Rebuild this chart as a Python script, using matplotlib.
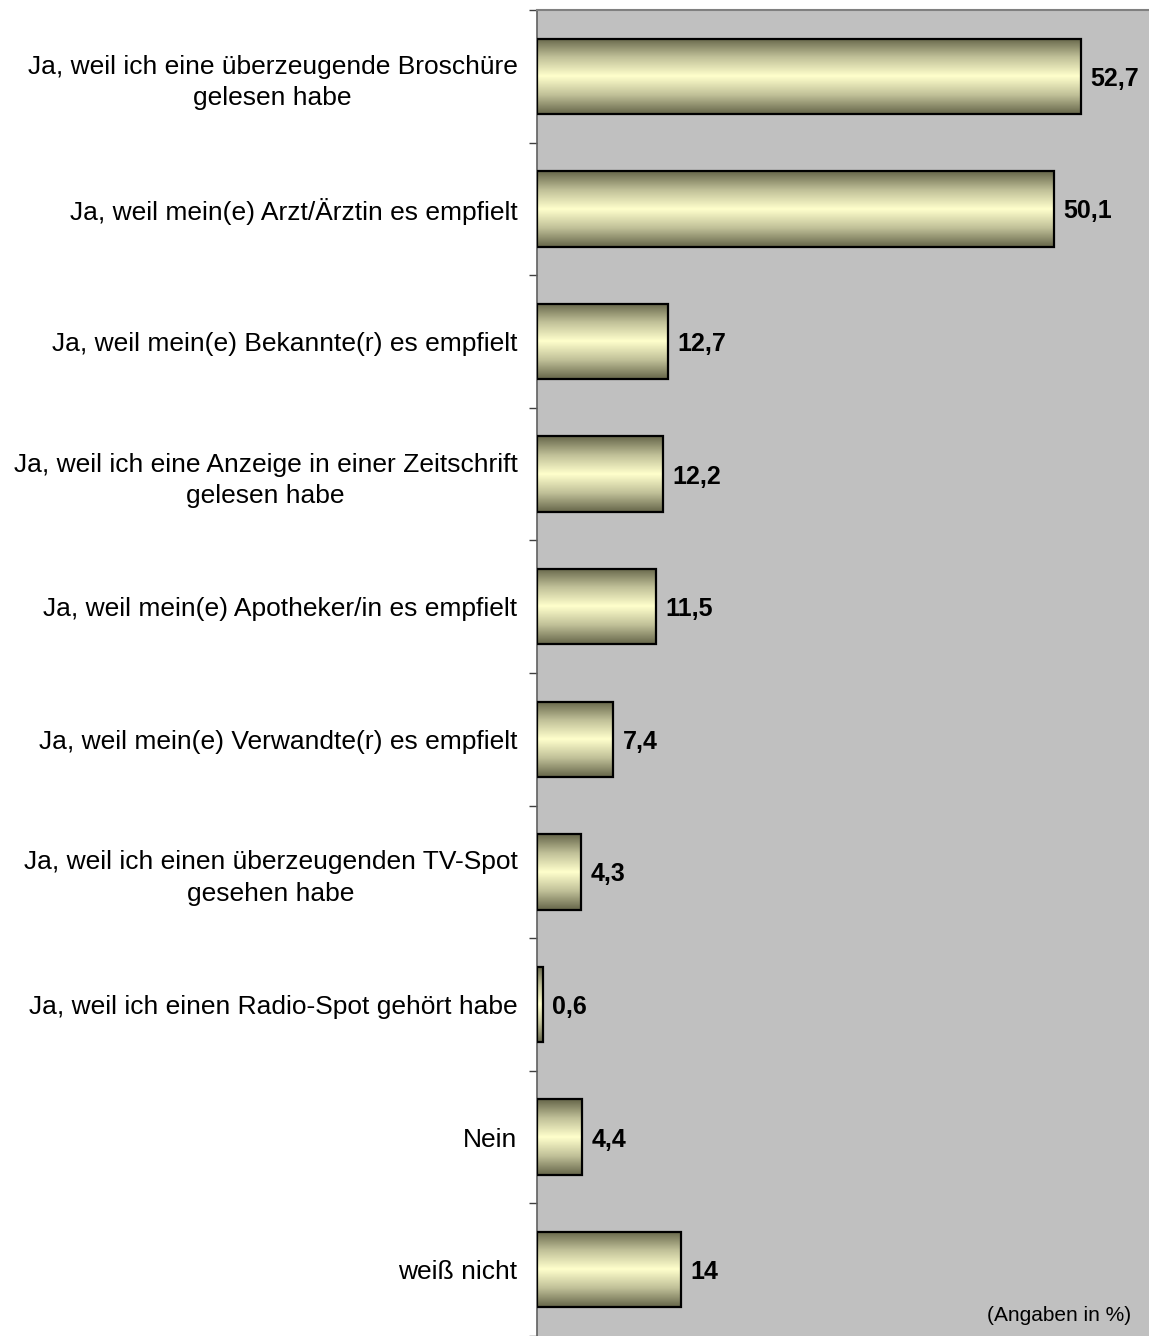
import matplotlib.pyplot as plt
import numpy as np
from matplotlib.colors import LinearSegmentedColormap

plt.rcParams['font.family'] = ['Liberation Sans', 'DejaVu Sans']

# Daten
categories = [
    "Ja, weil ich eine überzeugende Broschüre\ngelesen habe",
    "Ja, weil mein(e) Arzt/Ärztin es empfielt",
    "Ja, weil mein(e) Bekannte(r) es empfielt",
    "Ja, weil ich eine Anzeige in einer Zeitschrift\ngelesen habe",
    "Ja, weil mein(e) Apotheker/in es empfielt",
    "Ja, weil mein(e) Verwandte(r) es empfielt",
    "Ja, weil ich einen überzeugenden TV-Spot\ngesehen habe",
    "Ja, weil ich einen Radio-Spot gehört habe",
    "Nein",
    "weiß nicht",
]
values = [52.7, 50.1, 12.7, 12.2, 11.5, 7.4, 4.3, 0.6, 4.4, 14]
value_labels = ["52,7", "50,1", "12,7", "12,2", "11,5", "7,4", "4,3", "0,6", "4,4", "14"]

fig = plt.figure(figsize=(11.49, 13.36), dpi=100)
ax = fig.add_axes([537 / 1149, 0, 612 / 1149, 1326 / 1336])
ax.set_facecolor('#c0c0c0')

y = np.arange(len(categories))
bar_h = 0.57
bars = ax.barh(y, values, height=bar_h, color='none', edgecolor='black', linewidth=1.6, zorder=3)

# Farbverlauf in den Balken (dunkel oben/unten, hell in der Mitte)
cmap = LinearSegmentedColormap.from_list('olive', ['#66664a', '#c0c098', '#ffffcc', '#c0c098', '#66664a'])
grad = np.linspace(0, 1, 256).reshape(-1, 1)
for b in bars:
    x0, y0 = b.get_x(), b.get_y()
    ax.imshow(grad, cmap=cmap, aspect='auto', zorder=2,
              extent=[x0, x0 + b.get_width(), y0 + b.get_height(), y0])

for yi, v, lab in zip(y, values, value_labels):
    ax.text(v + 0.9, yi, lab, va='center_baseline', ha='left', fontsize=18, fontweight='bold', zorder=4)

ax.set_xlim(0, 59.3)
ax.set_ylim(len(categories) - 0.5 - 4 / 133, -0.5)

ax.set_yticks(y)
ax.set_yticklabels(categories, fontsize=19, ha='right', multialignment='center', linespacing=1.4)
ax.tick_params(axis='y', which='major', length=0, pad=14)
ax.set_yticks(np.arange(-0.5, len(categories)), minor=True)
ax.tick_params(axis='y', which='minor', length=6, width=1, direction='out', color='#404040')
ax.set_xticks([])

for s in ['right', 'bottom']:
    ax.spines[s].set_visible(False)
ax.spines['left'].set_color('#606060')
ax.spines['left'].set_linewidth(1.2)
ax.spines['top'].set_color('#808080')
ax.spines['top'].set_linewidth(1.5)

ax.text(0.97, 0.008, "(Angaben in %)", transform=ax.transAxes, ha='right', va='bottom', fontsize=15)

fig.savefig('out.png', dpi=100)
